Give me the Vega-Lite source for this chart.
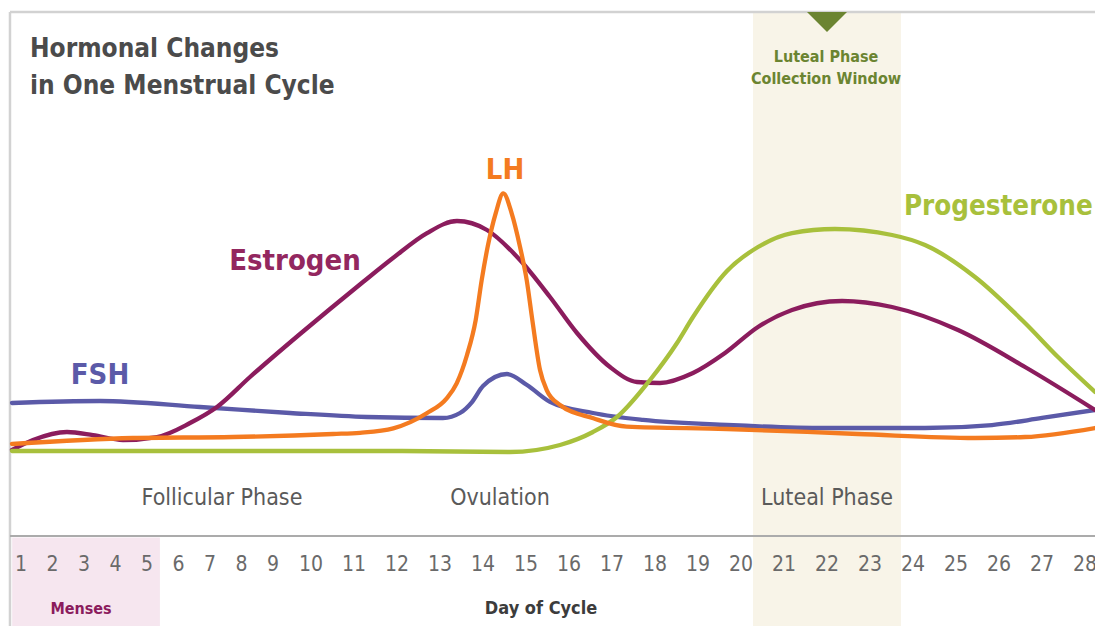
{
  "$schema": "https://vega.github.io/schema/vega-lite/v6.json",
  "width": 1095,
  "height": 626,
  "padding": 0,
  "autosize": "none",
  "background": "white",
  "config": {"view": {"stroke": null}},
  "datasets": {
    "curves": [
      {"h":"FSH","day":0.714,"level":25.38},{"h":"FSH","day":3.508,"level":25.76},{"h":"FSH","day":6.683,"level":24.62},{"h":"FSH","day":9.447,"level":23.47},{"h":"FSH","day":11.302,"level":22.71},{"h":"FSH","day":13.07,"level":22.52},{"h":"FSH","day":13.465,"level":23.47},{"h":"FSH","day":13.744,"level":25.57},{"h":"FSH","day":14.0,"level":28.63},{"h":"FSH","day":14.558,"level":30.92},{"h":"FSH","day":15.023,"level":28.82},{"h":"FSH","day":15.558,"level":25.6},{"h":"FSH","day":16.558,"level":23.47},{"h":"FSH","day":17.721,"level":22.14},{"h":"FSH","day":19.674,"level":21.18},{"h":"FSH","day":21.953,"level":20.61},{"h":"FSH","day":24.279,"level":20.61},{"h":"FSH","day":25.837,"level":21.18},{"h":"FSH","day":27.0,"level":22.52},{"h":"FSH","day":28.233,"level":24.05},
      {"h":"Estrogen","day":0.714,"level":16.41},{"h":"Estrogen","day":1.381,"level":18.32},{"h":"Estrogen","day":2.46,"level":19.85},{"h":"Estrogen","day":3.286,"level":19.27},{"h":"Estrogen","day":4.238,"level":18.32},{"h":"Estrogen","day":5.317,"level":18.89},{"h":"Estrogen","day":6.365,"level":21.56},{"h":"Estrogen","day":7.222,"level":24.62},{"h":"Estrogen","day":8.27,"level":30.34},{"h":"Estrogen","day":9.711,"level":38.55},{"h":"Estrogen","day":10.442,"level":43.32},{"h":"Estrogen","day":11.209,"level":48.47},{"h":"Estrogen","day":11.907,"level":53.05},{"h":"Estrogen","day":12.698,"level":57.82},{"h":"Estrogen","day":13.395,"level":60.11},{"h":"Estrogen","day":14.093,"level":58.4},{"h":"Estrogen","day":14.86,"level":52.67},{"h":"Estrogen","day":15.558,"level":45.61},{"h":"Estrogen","day":16.186,"level":38.74},{"h":"Estrogen","day":16.953,"level":32.25},{"h":"Estrogen","day":17.581,"level":29.39},{"h":"Estrogen","day":18.116,"level":29.2},{"h":"Estrogen","day":18.884,"level":31.11},{"h":"Estrogen","day":19.628,"level":34.92},{"h":"Estrogen","day":20.395,"level":39.89},{"h":"Estrogen","day":21.186,"level":43.13},{"h":"Estrogen","day":22.349,"level":44.85},{"h":"Estrogen","day":23.512,"level":43.7},{"h":"Estrogen","day":25.047,"level":39.31},{"h":"Estrogen","day":26.605,"level":32.25},{"h":"Estrogen","day":28.233,"level":24.05},
      {"h":"Progesterone","day":0.714,"level":16.22},{"h":"Progesterone","day":6.683,"level":16.22},{"h":"Progesterone","day":12.07,"level":16.22},{"h":"Progesterone","day":14.628,"level":16.03},{"h":"Progesterone","day":15.791,"level":17.37},{"h":"Progesterone","day":16.558,"level":19.85},{"h":"Progesterone","day":17.116,"level":22.71},{"h":"Progesterone","day":17.884,"level":29.77},{"h":"Progesterone","day":18.512,"level":36.83},{"h":"Progesterone","day":18.884,"level":41.79},{"h":"Progesterone","day":19.674,"level":50.57},{"h":"Progesterone","day":20.395,"level":55.15},{"h":"Progesterone","day":21.186,"level":57.82},{"h":"Progesterone","day":22.186,"level":58.59},{"h":"Progesterone","day":23.512,"level":57.44},{"h":"Progesterone","day":24.279,"level":55.53},{"h":"Progesterone","day":25.442,"level":49.43},{"h":"Progesterone","day":26.605,"level":40.65},{"h":"Progesterone","day":27.372,"level":34.16},{"h":"Progesterone","day":28.233,"level":27.5},
      {"h":"LH","day":0.714,"level":17.56},{"h":"LH","day":4.556,"level":18.7},{"h":"LH","day":7.73,"level":18.89},{"h":"LH","day":10.512,"level":19.47},{"h":"LH","day":11.14,"level":19.7},{"h":"LH","day":11.914,"level":20.55},{"h":"LH","day":12.691,"level":23.42},{"h":"LH","day":13.156,"level":26.28},{"h":"LH","day":13.388,"level":29.14},{"h":"LH","day":13.628,"level":34.54},{"h":"LH","day":13.83,"level":41.22},{"h":"LH","day":13.97,"level":48.85},{"h":"LH","day":14.109,"level":55.21},{"h":"LH","day":14.295,"level":61.58},{"h":"LH","day":14.472,"level":65.4},{"h":"LH","day":14.667,"level":61.58},{"h":"LH","day":14.86,"level":55.21},{"h":"LH","day":15.016,"level":48.85},{"h":"LH","day":15.147,"level":41.22},{"h":"LH","day":15.326,"level":31.68},{"h":"LH","day":15.481,"level":27.86},{"h":"LH","day":15.791,"level":25.0},{"h":"LH","day":16.565,"level":22.46},{"h":"LH","day":17.342,"level":20.86},{"h":"LH","day":19.674,"level":20.42},{"h":"LH","day":22.721,"level":19.47},{"h":"LH","day":25.442,"level":18.7},{"h":"LH","day":26.605,"level":18.89},{"h":"LH","day":28.233,"level":20.61}
    ],
    "days": [
      {"day":1},{"day":2},{"day":3},{"day":4},{"day":5},{"day":6},{"day":7},{"day":8},{"day":9},{"day":10},{"day":11},{"day":12},{"day":13},{"day":14},{"day":15},{"day":16},{"day":17},{"day":18},{"day":19},{"day":20},{"day":21},{"day":22},{"day":23},{"day":24},{"day":25},{"day":26},{"day":27},{"day":28}
    ]
  },
  "layer": [
    {
      "data": {"values": [{"name": "Luteal Phase Collection Window", "start": 20.28, "end": 23.72}]},
      "mark": {"type": "rect", "color": "#f8f4e8"},
      "encoding": {
        "x": {"field": "start", "type": "quantitative", "scale": {"type": "linear", "domain": [1, 9, 10, 28], "range": [21, 273, 311, 1085], "nice": false, "zero": false}, "axis": null},
        "x2": {"field": "end"},
        "y": {"datum": 100, "type": "quantitative", "scale": {"domain": [0, 100], "range": [536, 12], "nice": false, "zero": false}, "axis": null},
        "y2": {"datum": -19}
      }
    },
    {
      "data": {"values": [{"name": "Menses", "start": 0.72, "end": 5.41}]},
      "mark": {"type": "rect", "color": "#f6e6ef"},
      "encoding": {
        "x": {"field": "start", "type": "quantitative"},
        "x2": {"field": "end"},
        "y": {"datum": -0.3, "type": "quantitative"},
        "y2": {"datum": -19}
      }
    },
    {
      "data": {"values": [{}]},
      "mark": {"type": "rule", "color": "#d2d2d2", "strokeWidth": 2.5},
      "encoding": {
        "x": {"datum": 0.65, "type": "quantitative"},
        "x2": {"datum": 28.4},
        "y": {"datum": 100, "type": "quantitative"}
      }
    },
    {
      "data": {"values": [{}]},
      "mark": {"type": "rule", "color": "#d2d2d2", "strokeWidth": 2.5},
      "encoding": {
        "x": {"datum": 0.65, "type": "quantitative"},
        "y": {"datum": 100, "type": "quantitative"},
        "y2": {"datum": -19}
      }
    },
    {
      "data": {"values": [{}]},
      "mark": {"type": "rule", "color": "#ababab", "strokeWidth": 2},
      "encoding": {
        "x": {"datum": 0.65, "type": "quantitative"},
        "x2": {"datum": 28.4},
        "y": {"datum": 0, "type": "quantitative"}
      }
    },
    {
      "data": {"name": "curves"},
      "mark": {"type": "line", "interpolate": "monotone", "strokeWidth": 4.3, "strokeCap": "round"},
      "encoding": {
        "x": {"field": "day", "type": "quantitative"},
        "y": {"field": "level", "type": "quantitative"},
        "color": {"field": "h", "type": "nominal", "legend": null, "scale": {"domain": ["FSH", "Estrogen", "LH", "Progesterone"], "range": ["#5b5aa8", "#8b1c5d", "#f47b20", "#a8c03c"]}},
        "order": {"field": "day", "type": "quantitative"}
      }
    },
    {
      "data": {"values": [{}]},
      "mark": {"type": "point", "shape": "M-1,-0.5L1,-0.5L0,0.5Z", "filled": true, "opacity": 1, "size": 1600, "color": "#6b8431"},
      "encoding": {
        "x": {"datum": 22, "type": "quantitative"},
        "y": {"datum": 98.1, "type": "quantitative"}
      }
    },
    {
      "data": {"values": [{"t": ["Hormonal Changes", "in One Menstrual Cycle"]}]},
      "mark": {"type": "text", "align": "left", "baseline": "alphabetic", "font": "DejaVu Sans Condensed, sans-serif", "fontWeight": "bold", "fontSize": 26, "lineHeight": 37, "color": "#4b4b4b"},
      "encoding": {
        "x": {"datum": 1.286, "type": "quantitative"},
        "y": {"datum": 91.41, "type": "quantitative"},
        "text": {"field": "t"}
      }
    },
    {
      "data": {"values": [{"t": ["Luteal Phase", "Collection Window"]}]},
      "mark": {"type": "text", "align": "center", "baseline": "alphabetic", "font": "DejaVu Sans Condensed, sans-serif", "fontWeight": "bold", "fontSize": 16, "lineHeight": 22, "color": "#6b8431"},
      "encoding": {
        "x": {"datum": 21.977, "type": "quantitative"},
        "y": {"datum": 90.46, "type": "quantitative"},
        "text": {"field": "t"}
      }
    },
    {
      "data": {"values": [{"t": "Estrogen"}]},
      "mark": {"type": "text", "align": "center", "baseline": "alphabetic", "font": "DejaVu Sans Condensed, sans-serif", "fontWeight": "bold", "fontSize": 29, "color": "#93275f"},
      "encoding": {"x": {"datum": 9.579, "type": "quantitative"}, "y": {"datum": 50.76, "type": "quantitative"}, "text": {"field": "t"}}
    },
    {
      "data": {"values": [{"t": "FSH"}]},
      "mark": {"type": "text", "align": "center", "baseline": "alphabetic", "font": "DejaVu Sans Condensed, sans-serif", "fontWeight": "bold", "fontSize": 29, "color": "#5b5aa8"},
      "encoding": {"x": {"datum": 3.508, "type": "quantitative"}, "y": {"datum": 29.01, "type": "quantitative"}, "text": {"field": "t"}}
    },
    {
      "data": {"values": [{"t": "LH"}]},
      "mark": {"type": "text", "align": "center", "baseline": "alphabetic", "font": "DejaVu Sans Condensed, sans-serif", "fontWeight": "bold", "fontSize": 29, "color": "#f47b20"},
      "encoding": {"x": {"datum": 14.512, "type": "quantitative"}, "y": {"datum": 68.13, "type": "quantitative"}, "text": {"field": "t"}}
    },
    {
      "data": {"values": [{"t": "Progesterone"}]},
      "mark": {"type": "text", "align": "left", "baseline": "alphabetic", "font": "DejaVu Sans Condensed, sans-serif", "fontWeight": "bold", "fontSize": 27.5, "color": "#a8c03c"},
      "encoding": {"x": {"datum": 23.79, "type": "quantitative"}, "y": {"datum": 61.26, "type": "quantitative"}, "text": {"field": "t"}}
    },
    {
      "data": {"values": [{"t": "Follicular Phase", "d": 7.381}, {"t": "Ovulation", "d": 14.395}, {"t": "Luteal Phase", "d": 22.0}]},
      "mark": {"type": "text", "align": "center", "baseline": "alphabetic", "font": "DejaVu Sans Condensed, sans-serif", "fontSize": 23, "color": "#5a5a5a"},
      "encoding": {"x": {"field": "d", "type": "quantitative"}, "y": {"datum": 5.92, "type": "quantitative"}, "text": {"field": "t"}}
    },
    {
      "data": {"name": "days"},
      "mark": {"type": "text", "align": "center", "baseline": "alphabetic", "font": "DejaVu Sans Condensed, sans-serif", "fontSize": 21, "color": "#6a6a6a"},
      "encoding": {"x": {"field": "day", "type": "quantitative"}, "y": {"datum": -6.68, "type": "quantitative"}, "text": {"field": "day", "type": "quantitative"}}
    },
    {
      "data": {"values": [{"t": "Menses"}]},
      "mark": {"type": "text", "align": "center", "baseline": "alphabetic", "font": "DejaVu Sans Condensed, sans-serif", "fontWeight": "bold", "fontSize": 16, "color": "#8b1c5d"},
      "encoding": {"x": {"datum": 2.905, "type": "quantitative"}, "y": {"datum": -14.9, "type": "quantitative"}, "text": {"field": "t"}}
    },
    {
      "data": {"values": [{"t": "Day of Cycle"}]},
      "mark": {"type": "text", "align": "center", "baseline": "alphabetic", "font": "DejaVu Sans Condensed, sans-serif", "fontWeight": "bold", "fontSize": 18, "color": "#3c3c3c"},
      "encoding": {"x": {"datum": 15.349, "type": "quantitative"}, "y": {"datum": -14.9, "type": "quantitative"}, "text": {"field": "t"}}
    }
  ]
}
